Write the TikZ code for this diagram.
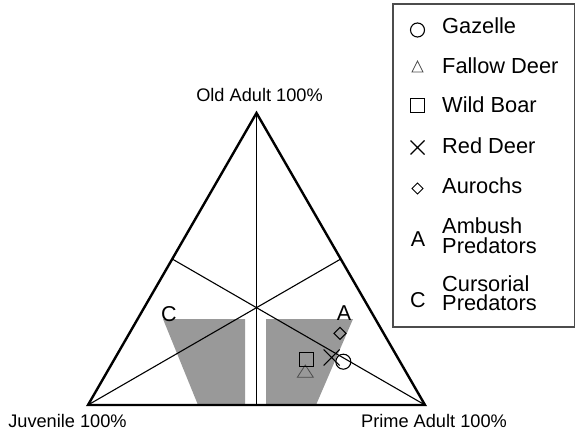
\documentclass[tikz,border=0pt]{standalone}
\usepackage{fontspec}
\setmainfont{Liberation Sans}
\usepackage{tikz}
\usetikzlibrary{arrows}

\begin{document}
\begin{tikzpicture}[x=1pt,y=-1pt,
    corner/.style={font=\fontsize{18.2}{20}\selectfont,inner sep=0pt,anchor=base},
    entry/.style={font=\fontsize{21.8}{19.5}\selectfont,inner sep=0pt,anchor=base west,align=left},
    letter/.style={font=\fontsize{21.5}{20}\selectfont,inner sep=0pt,anchor=base},
    sym/.style={line width=1.1pt}]
    \useasboundingbox (0,0) rectangle (577,435);
    % Draw the corners and the midpoints of the sides
    \coordinate (old) at (256.5,113);
    \coordinate (juv) at (88,405);
    \coordinate (prime) at (425,405);
    \coordinate (midL) at (172.25,259);
    \coordinate (midR) at (340.75,259);
    \coordinate (midB) at (256.5,405);
    % Shade the two zones
    \fill[black!40] (163,319) -- (245,319) -- (245,405) -- (198,405) -- cycle;
    \fill[black!40] (266,319) -- (353,319) -- (316,405) -- (266,405) -- cycle;
    % Draw the medians and the triangle
    \draw[line width=1.1pt] (old) -- (midB);
    \draw[line width=1.1pt] (juv) -- (midR);
    \draw[line width=1.1pt] (prime) -- (midL);
    \draw[line width=2.4pt,line join=miter] (old) -- (juv) -- (prime) -- cycle;
    % Label the corners
    \node[corner] (oldlbl) at (259.5,102) {Old Adult 100\%};
    \node[corner] (juvlbl) at (67.5,427) {Juvenile 100\%};
    \node[corner] (primelbl) at (434,427) {Prime Adult 100\%};
    \node[letter] (C) at (169,321) {C};
    \node[letter] (A) at (344,320) {A};
    % Draw the points
    \draw[sym] (334,333.3) -- (340,327.3) -- (346,333.3) -- (340,339.3) -- cycle;
    \draw[sym,gray!60!black,line width=.8pt] (305.3,365) -- (313.3,377.3) -- (297.3,377.3) -- cycle;
    \draw[sym] (299.7,352.7) rectangle (313.7,366.7);
    \draw[sym] (323.7,349.5) -- (339.7,365.5) (323.7,365.5) -- (339.7,349.5);
    \draw[sym] (343.3,361.7) circle[radius=7.5pt];
    % Draw the legend
    \draw[line width=1.5pt,black!70] (393,4) rectangle (574.5,327);
    \draw[sym] (417.5,30) circle[radius=7pt];
    \draw[gray!60!black,line width=.8pt] (417.5,61) -- (423,72) -- (412,72) -- cycle;
    \draw[sym] (410.5,98.5) rectangle (424.5,112.5);
    \draw[sym] (410.5,140.5) -- (424.5,154.5) (410.5,154.5) -- (424.5,140.5);
    \draw[line width=.9pt] (412,188.5) -- (417.5,183) -- (423,188.5) -- (417.5,194) -- cycle;
    \node[letter] (legA) at (418,247) {A};
    \node[letter] (legC) at (418,307) {C};
    \foreach \y/\txt in {33.3/Gazelle, 74/Fallow Deer, 112.7/Wild Boar, 154/Red Deer, 194/Aurochs, 253/Ambush\\Predators, 310.5/Cursorial\\Predators}{
      \node[entry] (e\y) at (442,\y) {\txt};
    }
\end{tikzpicture}
\end{document}
